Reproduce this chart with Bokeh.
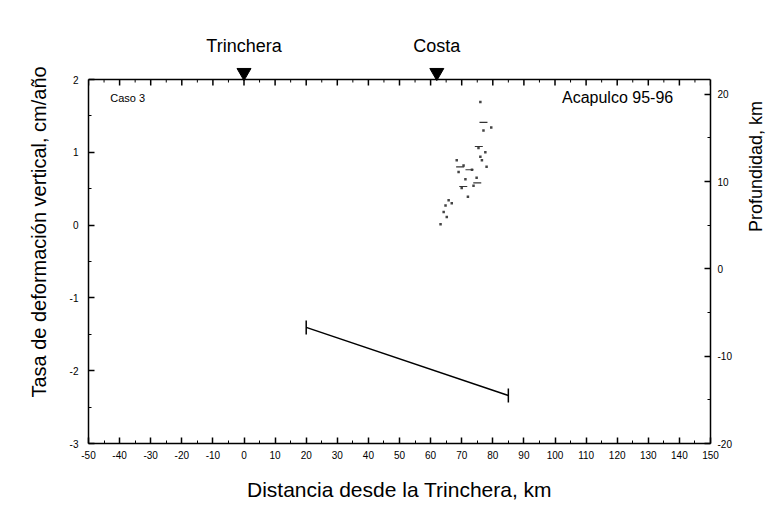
from bokeh.plotting import figure
from bokeh.models import Range1d, LinearAxis, FixedTicker, Span
from bokeh.core.properties import value
from bokeh.embed import file_html
from bokeh.resources import INLINE
import math

# --- data ---
# vertical deformation rate points (km from trench, cm/yr)
pts_x = [63.2, 64.2, 64.8, 65.2, 65.8, 66.8, 68.4, 69.0, 70.0, 70.6, 71.2, 72.0,
         73.3, 73.8, 74.8, 75.4, 76.0, 76.5, 77.0, 77.6, 78.0, 79.5, 76.0]
pts_y = [0.01, 0.18, 0.27, 0.11, 0.34, 0.30, 0.89, 0.73, 0.51, 0.82, 0.63, 0.39,
         0.76, 0.54, 0.65, 1.06, 0.94, 0.89, 1.30, 1.00, 0.80, 1.34, 1.69]
# short horizontal error marks
bar_x = [69.5, 72.5, 77.0, 70.5, 75.5, 75.0]
bar_y = [0.80, 0.76, 1.41, 0.53, 1.08, 0.58]

# fault plane (km from trench, depth km)
fault_x = [20, 85]
fault_depth = [-6.7, -14.5]

markers_x = [0, 62]
markers_txt = ["Trinchera", "Costa"]

x_ticks = list(range(-50, 151, 10))
x_minor = list(range(-45, 150, 10))
y_ticks = [-3, -2, -1, 0, 1, 2]
y_minor = [-2.5, -1.5, -0.5, 0.5, 1.5]
depth_ticks = [-20, -10, 0, 10, 20]
depth_minor = [-15, -5, 5, 15]

FONT = "Liberation Sans"

# --- layout ---
Y_MIN, Y_MAX = -3, 2
D_MIN, D_MAX = -20, 21.7
TOP_BORDER = 20          # frame starts here; the box top (y=2) sits 59 px lower
BOX_TOP = 79
BOX_H = 364
px_y = BOX_H / (Y_MAX - Y_MIN)
px_d = BOX_H / (D_MAX - D_MIN)
y_top = Y_MAX + (BOX_TOP - TOP_BORDER) / px_y
d_top = D_MAX + (BOX_TOP - TOP_BORDER) / px_d

p = figure(width=778, height=509, output_backend="svg", toolbar_location=None,
           x_range=Range1d(-50, 150), y_range=Range1d(Y_MIN, y_top),
           min_border_left=88, min_border_right=65, min_border_top=TOP_BORDER,
           min_border_bottom=66)
p.extra_y_ranges = {"depth": Range1d(D_MIN, d_top)}
p.grid.visible = False
p.outline_line_color = None
p.background_fill_color = "white"
p.border_fill_color = "white"

def style_axis(ax):
    ax.axis_line_width = 1.5
    ax.major_tick_in = 6
    ax.major_tick_out = 0
    ax.major_tick_line_width = 1.5
    ax.minor_tick_in = 3
    ax.minor_tick_out = 0
    ax.major_label_text_font = FONT
    ax.major_label_text_font_size = "10px"
    ax.major_label_text_color = "black"
    ax.axis_label_text_font = FONT
    ax.axis_label_text_font_style = "normal"
    ax.axis_label_text_color = "black"

def hyphen(ticks):
    return {t: str(t) for t in ticks if t < 0}

xa = p.xaxis[0]
xa.ticker = FixedTicker(ticks=x_ticks, minor_ticks=x_minor)
xa.major_label_overrides = hyphen(x_ticks)
xa.axis_label = "Distancia desde la Trinchera, km"
style_axis(xa)
xa.axis_label_text_font_size = "21px"
xa.major_label_standoff = 7
xa.axis_label_standoff = 16

ya = p.yaxis[0]
ya.ticker = FixedTicker(ticks=y_ticks, minor_ticks=y_minor)
ya.bounds = (Y_MIN, Y_MAX)
ya.major_label_overrides = hyphen(y_ticks)
ya.axis_label = "Tasa de deformación vertical, cm/año"
style_axis(ya)
ya.axis_label_text_font_size = "20px"
ya.major_label_standoff = 10
ya.axis_label_standoff = 17

ra = LinearAxis(y_range_name="depth", ticker=FixedTicker(ticks=depth_ticks, minor_ticks=depth_minor),
                axis_label="Profundidad, km", bounds=(D_MIN, D_MAX))
style_axis(ra)
ra.major_label_overrides = hyphen(depth_ticks)
ra.axis_label_text_font_size = "18px"
ra.major_label_standoff = 7
ra.axis_label_standoff = 21
try:
    ra.axis_label_orientation = math.pi / 2
except Exception:
    pass
p.add_layout(ra, "right")

# top edge of the box with inward ticks
p.add_layout(Span(location=Y_MAX, dimension="width", line_color="black", line_width=1.5))
p.segment(x0=x_ticks, y0=[Y_MAX] * len(x_ticks), x1=x_ticks,
          y1=[Y_MAX - 6 / px_y] * len(x_ticks), line_color="black", line_width=1.5)
p.segment(x0=x_minor, y0=[Y_MAX] * len(x_minor), x1=x_minor,
          y1=[Y_MAX - 3 / px_y] * len(x_minor), line_color="black", line_width=1)

# points
p.scatter(pts_x, pts_y, marker="square", size=2.5, color="#444444", line_color=None)
p.scatter(bar_x, bar_y, marker="dash", size=8, line_color="#333333", line_width=1.2)

# fault plane
p.line(fault_x, fault_depth, y_range_name="depth", line_color="black", line_width=1.5)
p.scatter(fault_x, fault_depth, y_range_name="depth", marker="dash", angle=math.pi / 2,
          size=14, line_color="black", line_width=1.5)

# texts in the box
p.text(x=[-43], y=[1.75], text=["Caso 3"], text_font=value(FONT), text_font_size="11px",
       text_baseline="middle", text_color="black")
p.text(x=[138], y=[1.75], text=["Acapulco 95-96"], text_font=value(FONT), text_font_size="16px",
       text_align="right", text_baseline="middle", text_color="black")

# markers above the box
n = len(markers_x)
p.scatter(markers_x, [Y_MAX + 7 / px_y] * n, marker="inverted_triangle", size=14,
          color="black", line_color="black")
p.text(x=markers_x, y=[Y_MAX + 34 / px_y] * n, text=markers_txt, text_font=value(FONT),
       text_font_size="18px", text_align="center", text_baseline="middle", text_color="black")

open("out.html", "w").write(file_html(p, INLINE))
